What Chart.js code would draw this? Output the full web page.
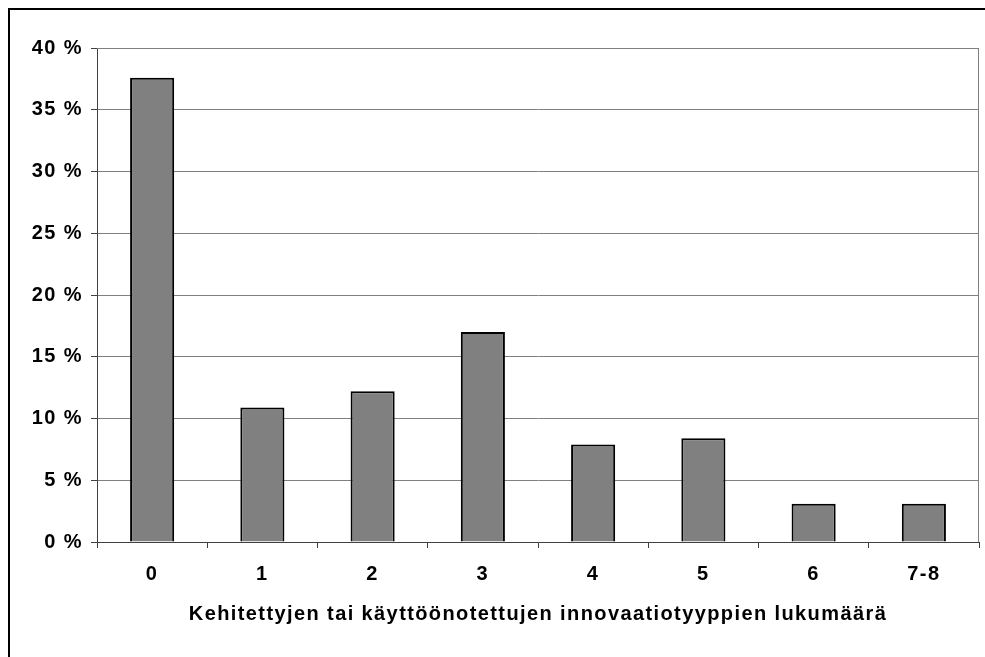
<!DOCTYPE html>
<html lang="fi">
<head>
    <meta charset="UTF-8">
    <title>Innovaatiotyypit</title>
    <script src="https://cdn.jsdelivr.net/npm/chart.js"></script>
    <style>
        html, body { margin: 0; padding: 0; background: #ffffff; }
        #kaavio { width: 985px; height: 657px; }
    </style>
</head>
<body>
    <div id="kaavio"><canvas id="grafiikka"></canvas></div>

<script>
    var luokat = ['0', '1', '2', '3', '4', '5', '6', '7-8'];
    var osuudet = [37.6, 10.9, 12.2, 17.0, 7.9, 8.4, 3.1, 3.1];
    var yTikit = [0, 5, 10, 15, 20, 25, 30, 35, 40];
    var xOtsikko = 'Kehitettyjen tai käyttöönotettujen innovaatiotyyppien lukumäärä';

    var fontti = { family: '"Liberation Sans", Arial, sans-serif', size: 20, weight: 'bold' };
    var vali = '1.4px';

    // kehys koko kuvan ympäri + kirjainväli
    var kehys = {
        id: 'kehys',
        beforeUpdate: function (chart) {
            chart.ctx.letterSpacing = vali;
        },
        beforeDraw: function (chart) {
            var ctx = chart.ctx;
            ctx.save();
            ctx.fillStyle = '#ffffff';
            ctx.fillRect(0, 0, chart.width, chart.height);
            ctx.strokeStyle = '#000000';
            ctx.lineWidth = 2;
            ctx.strokeRect(9, 9, chart.width + 20, chart.height + 20);
            ctx.restore();
            ctx.letterSpacing = vali;
        },
        afterDatasetsDraw: function (chart) {
            // yläreuna ja oikea reuna harmaana
            var a = chart.chartArea;
            var ctx = chart.ctx;
            ctx.save();
            ctx.strokeStyle = '#808080';
            ctx.lineWidth = 1;
            ctx.beginPath();
            ctx.moveTo(a.left, a.top + 0.5);
            ctx.lineTo(a.right - 0.5, a.top + 0.5);
            ctx.lineTo(a.right - 0.5, a.bottom);
            ctx.stroke();
            ctx.restore();
        }
    };

    var ctx = document.getElementById('grafiikka').getContext('2d');
    new Chart(ctx, {
        type: 'bar',
        data: {
            labels: luokat,
            datasets: [{
                data: osuudet,
                backgroundColor: '#808080',
                borderColor: '#000000',
                borderWidth: 2,
                barPercentage: 0.4,
                categoryPercentage: 1.0
            }]
        },
        options: {
            responsive: true,
            maintainAspectRatio: false,
            animation: false,
            layout: { padding: { left: 0, top: 48, right: 6, bottom: 30 } },
            plugins: {
                legend: { display: false },
                tooltip: { enabled: false }
            },
            scales: {
                x: {
                    grid: {
                        offset: true,
                        drawOnChartArea: false,
                        drawTicks: true,
                        tickLength: 6,
                        color: '#404040'
                    },
                    border: { color: '#404040', width: 1 },
                    ticks: { color: '#000000', font: fontti, padding: 14 },
                    title: {
                        display: true,
                        text: xOtsikko,
                        color: '#000000',
                        font: fontti,
                        padding: { top: 12, bottom: 1 }
                    },
                    afterFit: function (scale) { scale.height = 85; }
                },
                y: {
                    min: 0,
                    max: 40,
                    afterBuildTicks: function (scale) {
                        scale.ticks = yTikit.map(function (v) { return { value: v }; });
                    },
                    grid: {
                        color: '#808080',
                        tickLength: 6,
                        tickColor: '#404040'
                    },
                    border: { color: '#404040', width: 1 },
                    ticks: {
                        color: '#000000',
                        font: fontti,
                        padding: 8,
                        callback: function (v) { return v + ' %'; }
                    },
                    afterFit: function (scale) { scale.width = 97; }
                }
            }
        },
        plugins: [kehys]
    });
</script>
</body>
</html>
